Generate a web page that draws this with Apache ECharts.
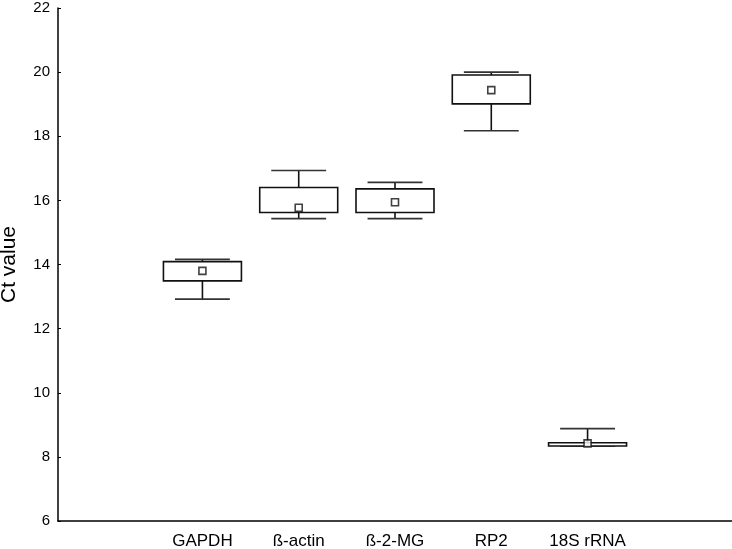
<!DOCTYPE html>
<html>
<head>
<meta charset="utf-8">
<script src="https://cdn.jsdelivr.net/npm/echarts@6/dist/echarts.min.js"></script>
<style>
  html, body { margin: 0; padding: 0; background: #fff; }
  #main { width: 732px; height: 549px; }
</style>
</head>
<body>
<div id="main"></div>
<script>
// categories (empty slots at both ends, as in the original plot)
var categories = ['', 'GAPDH', 'ß-actin', 'ß-2-MG', 'RP2', '18S rRNA', ''];
var genes = ['GAPDH', 'ß-actin', 'ß-2-MG', 'RP2', '18S rRNA'];
// whisker min / box bottom / box top / whisker max / mean (Ct)
var whiskerLow = [12.92, 15.43, 15.43, 18.17, 8.34];
var boxLow = [13.49, 15.62, 15.62, 19.01, 8.34];
var boxHigh = [14.09, 16.40, 16.36, 19.91, 8.44];
var whiskerHigh = [14.16, 16.93, 16.56, 20.00, 8.88];
var means = [13.80, 15.77, 15.94, 19.44, 8.42];
var yTicks = [6, 8, 10, 12, 14, 16, 18, 20, 22];

var boxData = genes.map(function (g, i) {
    return [i + 1, whiskerLow[i], boxLow[i], boxHigh[i], whiskerHigh[i]];
});
var meanData = genes.map(function (g, i) {
    return [i + 1, means[i]];
});

var myChart = echarts.init(document.getElementById('main'));

function renderBox(params, api) {
    var x = api.value(0);
    var pLow = api.coord([x, api.value(1)]);
    var pQ1 = api.coord([x, api.value(2)]);
    var pQ3 = api.coord([x, api.value(3)]);
    var pHigh = api.coord([x, api.value(4)]);
    var band = api.size([1, 0])[0];
    var bw = band * 0.81;
    var cw = band * 0.57;
    var cx = pQ1[0];
    var lineStyle = { stroke: '#111', lineWidth: 1.6, fill: null };
    return {
        type: 'group',
        children: [
            { type: 'line', shape: { x1: cx, y1: pHigh[1], x2: cx, y2: pQ3[1] }, style: lineStyle },
            { type: 'line', shape: { x1: cx, y1: pLow[1], x2: cx, y2: pQ1[1] }, style: lineStyle },
            { type: 'line', shape: { x1: cx - cw / 2, y1: pHigh[1], x2: cx + cw / 2, y2: pHigh[1] }, style: { stroke: '#333', lineWidth: 1.6 } },
            { type: 'line', shape: { x1: cx - cw / 2, y1: pLow[1], x2: cx + cw / 2, y2: pLow[1] }, style: { stroke: '#333', lineWidth: 1.6 } },
            { type: 'rect', shape: { x: cx - bw / 2, y: pQ3[1], width: bw, height: pQ1[1] - pQ3[1] },
              style: { stroke: '#111', lineWidth: 1.6, fill: '#fff' } }
        ]
    };
}

myChart.setOption({
    animation: false,
    grid: { left: 58, right: 0, top: 8, bottom: 28, outerBoundsMode: 'none' },
    textStyle: { fontFamily: 'Liberation Sans, Arial, sans-serif' },
    xAxis: {
        type: 'category',
        data: categories,
        boundaryGap: true,
        axisLine: { lineStyle: { color: '#000', width: 1.5 } },
        axisTick: { alignWithLabel: true, inside: true, length: 3, lineStyle: { color: '#000' } },
        axisLabel: { color: '#000', fontSize: 17, margin: 12, interval: 0 }
    },
    yAxis: {
        type: 'value',
        min: yTicks[0],
        max: yTicks[yTicks.length - 1],
        interval: 2,
        name: 'Ct value',
        nameLocation: 'middle',
        nameGap: 38,
        nameTextStyle: { color: '#000', fontSize: 21 },
        splitLine: { show: false },
        axisLine: { show: true, lineStyle: { color: '#000', width: 1.5 } },
        axisTick: { show: true, inside: true, length: 3, lineStyle: { color: '#000' } },
        axisLabel: { color: '#000', fontSize: 15, margin: 8 }
    },
    series: [
        {
            type: 'custom',
            renderItem: renderBox,
            encode: { x: 0, y: [1, 2, 3, 4] },
            data: boxData,
            z: 2
        },
        {
            type: 'scatter',
            symbol: 'rect',
            symbolSize: 7,
            itemStyle: { color: '#fff', borderColor: '#111', borderWidth: 1.6 },
            data: meanData,
            z: 3
        }
    ]
});
</script>
</body>
</html>
